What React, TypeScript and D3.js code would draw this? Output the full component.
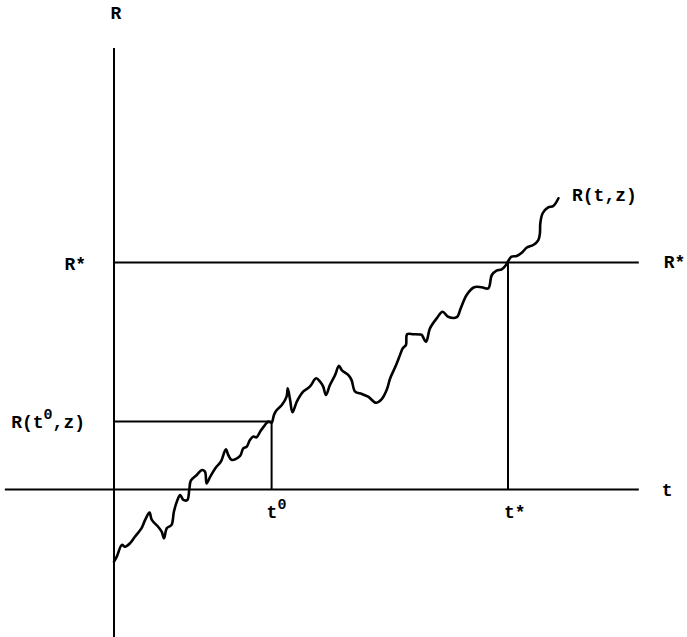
import React from 'react';
import * as d3 from 'd3';

// Sample path R(t, z)
const tValues = [
  0, 0.07, 0.2, 0.28, 0.41, 0.53, 0.7, 0.79, 0.9, 0.96,
  1.12, 1.21, 1.27, 1.34, 1.46, 1.52, 1.61, 1.68, 1.76, 1.86,
  1.91, 1.95, 2.1, 2.23, 2.31, 2.35, 2.44, 2.59, 2.71, 2.84,
  2.9, 2.99, 3.2, 3.28, 3.37, 3.45, 3.54, 3.62, 3.71, 3.83,
  3.92, 4.0, 4.06, 4.13, 4.26, 4.38, 4.41, 4.47, 4.53, 4.64,
  4.8, 4.97, 5.13, 5.23, 5.31, 5.38, 5.48, 5.61, 5.71, 5.78,
  5.95, 6.03, 6.12, 6.29, 6.45, 6.65, 6.79, 6.92, 7.01, 7.16,
  7.26, 7.33, 7.41, 7.44, 7.6, 7.77, 7.81, 7.92, 8.02, 8.19,
  8.34, 8.48, 8.7, 8.8, 8.95, 9.14, 9.33, 9.5, 9.59, 9.71,
  9.84, 9.95, 10.01, 10.09, 10.22, 10.35, 10.47, 10.64, 10.77, 10.81,
  10.82, 10.88, 11.02, 11.15, 11.28,
];
const rValues = [
  -3.18, -2.96, -2.44, -2.52, -2.36, -2.08, -1.7, -1.34, -1.02, -1.34,
  -1.64, -1.86, -2.15, -1.71, -1.56, -0.98, -0.46, -0.24, -0.46, -0.46,
  -0.02, 0.39, 0.64, 0.86, 0.78, 0.27, 0.56, 0.98, 1.22, 1.77,
  1.52, 1.3, 1.48, 1.81, 1.89, 2.18, 2.33, 2.3, 2.55, 2.84,
  2.99, 2.94, 3.28, 3.5, 3.72, 4.09, 4.46, 3.94, 3.4, 3.87,
  4.31, 4.53, 4.9, 4.75, 4.53, 4.16, 4.6, 5.04, 5.45, 5.26,
  5.04, 4.82, 4.31, 4.21, 4.09, 3.82, 3.97, 4.38, 4.9, 5.48,
  5.93, 6.22, 6.37, 6.84, 6.84, 6.83, 6.81, 6.51, 7.1, 7.54,
  7.83, 7.61, 7.59, 7.98, 8.57, 8.91, 8.91, 8.86, 9.45, 9.64,
  9.7, 9.89, 10.08, 10.26, 10.29, 10.43, 10.65, 10.77, 10.99, 11.29,
  11.73, 12.17, 12.43, 12.49, 12.83,
];

const T0 = 4;
const T_STAR = 10;
const R_STAR = 10;
const R_T0 = 3;
const T_AXIS_EXTENT = [-2.77, 13.32];
const R_AXIS_EXTENT = [-6.5, 19.45];

export default function App() {
  const W = 687;
  const H = 637;
  const x = d3.scaleLinear().domain([0, 10]).range([114, 508]);
  const y = d3.scaleLinear().domain([0, 10]).range([489.5, 262.5]);

  const pts: [number, number][] = tValues.map((t, i) => [t, rValues[i]]);
  const line = d3
    .line<[number, number]>()
    .x((d) => x(d[0]))
    .y((d) => y(d[1]))
    .curve(d3.curveCatmullRom.alpha(0.5));

  const font = "'Liberation Mono', 'Courier New', monospace";
  const lw = 2;
  const txt = { fontFamily: font, fontWeight: 700, fontSize: 18, fill: '#000' } as const;

  return (
    <svg
      width={W}
      height={H}
      style={{ position: 'absolute', left: 0, top: 0, background: '#fff' }}
    >
      {/* axes */}
      <line x1={x(0)} x2={x(0)} y1={y(R_AXIS_EXTENT[1])} y2={y(R_AXIS_EXTENT[0])} stroke="#000" strokeWidth={lw} />
      <line x1={x(T_AXIS_EXTENT[0])} x2={x(T_AXIS_EXTENT[1])} y1={y(0)} y2={y(0)} stroke="#000" strokeWidth={lw} />
      {/* R* level */}
      <line x1={x(0)} x2={x(T_AXIS_EXTENT[1])} y1={y(R_STAR)} y2={y(R_STAR)} stroke="#000" strokeWidth={lw} />
      {/* R(t0,z) level */}
      <line x1={x(0)} x2={x(T0)} y1={y(R_T0)} y2={y(R_T0)} stroke="#000" strokeWidth={lw} />
      <line x1={x(T0)} x2={x(T0)} y1={y(R_T0)} y2={y(0)} stroke="#000" strokeWidth={lw} />
      {/* t* */}
      <line x1={x(T_STAR)} x2={x(T_STAR)} y1={y(R_STAR)} y2={y(0)} stroke="#000" strokeWidth={lw} />
      {/* path */}
      <path d={line(pts) || ''} fill="none" stroke="#000" strokeWidth={2.6} strokeLinejoin="round" strokeLinecap="round" />

      {/* labels */}
      <text x={x(0) + 2} y={19} textAnchor="middle" {...txt}>R</text>
      <text x={x(0) - 28} y={y(R_STAR) + 7} textAnchor="end" {...txt}>R*</text>
      <text x={x(T_AXIS_EXTENT[1]) + 25} y={y(R_STAR) + 5} textAnchor="start" {...txt}>R*</text>
      <text x={x(0) - 29} y={y(R_T0) + 7} textAnchor="end" {...txt}>
        R(t<tspan fontSize={15} dy={-9}>0</tspan><tspan dy={9}>,z)</tspan>
      </text>
      <text x={x(T_STAR) + 64} y={201} textAnchor="start" {...txt}>R(t,z)</text>
      <text x={x(T_AXIS_EXTENT[1]) + 23} y={y(0) + 6} textAnchor="start" {...txt}>t</text>
      <text x={x(T0) - 5} y={518} textAnchor="start" {...txt}>
        t<tspan fontSize={15} dy={-9}>0</tspan>
      </text>
      <text x={x(T_STAR) - 4} y={518} textAnchor="start" {...txt}>t*</text>
    </svg>
  );
}
